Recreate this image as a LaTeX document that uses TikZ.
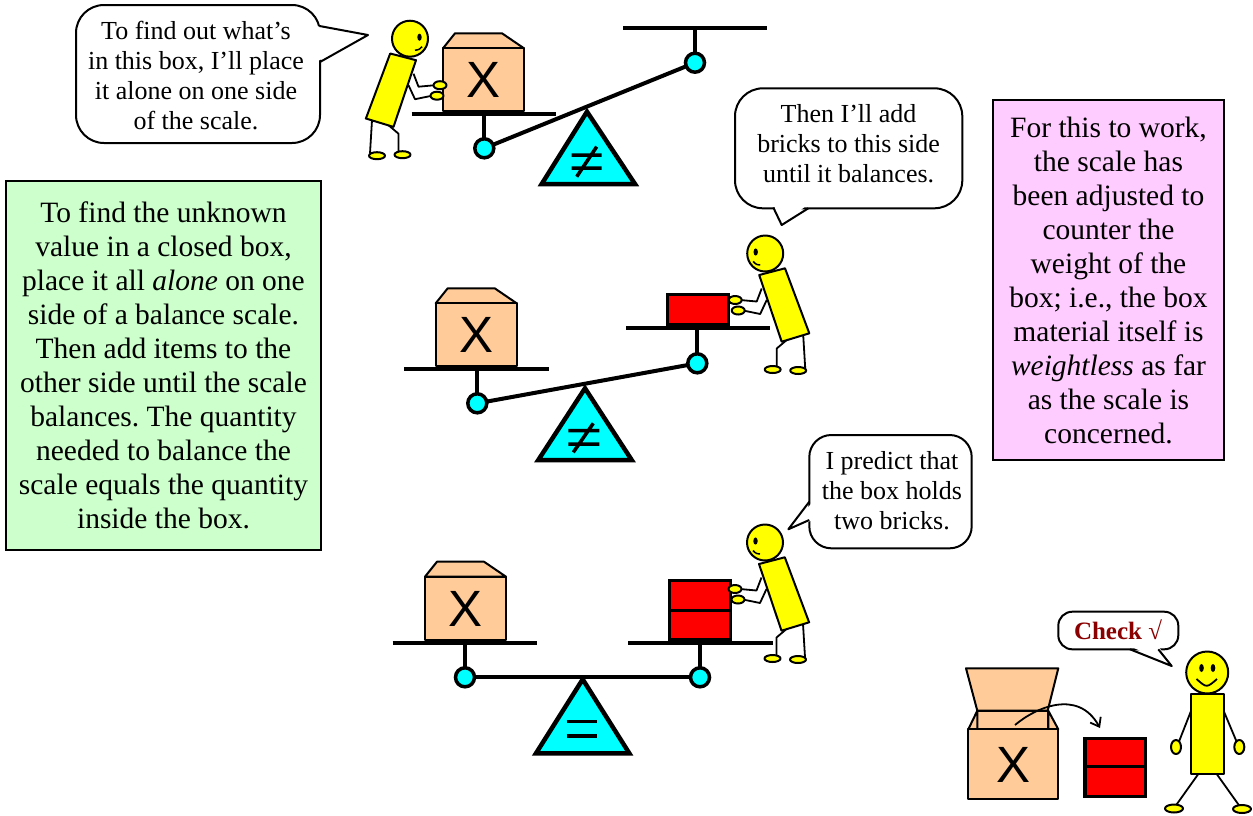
\documentclass[tikz,border=0pt]{standalone}
\usepackage{fontspec}
\setmainfont{Liberation Serif}
\newfontfamily\boxfont{Liberation Sans}
\usetikzlibrary{arrows.meta}
\frenchspacing

\definecolor{skinyel}{HTML}{FFFF00}
\definecolor{crate}{HTML}{FFCC99}
\definecolor{brick}{HTML}{FF0000}
\definecolor{pivotc}{HTML}{00FFFF}
\definecolor{notegreen}{HTML}{CCFFCC}
\definecolor{notepink}{HTML}{FFCCFF}
\definecolor{checkred}{HTML}{8B0000}

\tikzset{
  line/.style={draw=black, line width=2pt, line join=round},
  skin/.style={line, fill=skinyel},
  limb/.style={draw=black, line width=1.8pt, line join=round},
  plat/.style={draw=black, line width=4pt},
  pivot/.style={draw=black, line width=3.5pt, fill=pivotc},
  fulc/.style={draw=black, line width=4.5pt, fill=pivotc, line join=miter},
  sym/.style={draw=black, line width=3.5pt},
  cratebox/.style={line, fill=crate},
  brickbox/.style={draw=black, line width=3pt, fill=brick},
  bubble/.style={line, fill=white, rounded corners=#1},
  bubbletext/.style={font=\fontsize{26}{30}\selectfont, align=center, inner sep=0pt},
  notebox/.style={draw=black, line width=1.6pt, align=center, inner sep=0pt,
                  font=\fontsize{29.5}{34}\selectfont},
  xmark/.style={font=\boxfont\fontsize{51}{51}\selectfont, inner sep=0pt},
  % closed crate with its lid, placed by the top-left corner of its front face
  crate/.pic={
    \draw[cratebox] (0,0) -- (12,-15) -- (59,-15) -- (81,0) -- cycle;
    \draw[cratebox] (0,0) rectangle (81,63);
    \node[xmark] (-x) at (40.5,32) {X};
  },
  % stick figure leaning to the left and pushing, placed by the centre of its head
  pusher/.pic={
    \draw[limb] (21.5,86.5) -- (11.5,95) -- (11.5,113);
    \draw[limb] (38,81.5) -- (40,114.5);
    \draw[skin] (7.5,116) ellipse (8 and 3.5);
    \draw[skin] (33,117) ellipse (8 and 3.5);
    \draw[limb] (-3.5,35) -- (-8.5,48) -- (-25,46.5);
    \draw[limb] (1.5,46.5) -- (-5,60.5) -- (-22,57);
    \draw[skin] (-30,46.5) ellipse (6.5 and 4);
    \draw[skin] (-27,57) ellipse (6.5 and 4);
    \draw[skin] (-6,21.5) -- (19.8,14.8) -- (44.1,79.8) -- (16.5,88.2) -- cycle;
    \draw[skin] (0,0) circle (18);
    \fill (-9.5,-1.5) ellipse (2.2 and 3.6);
    \draw[line width=1.5pt] (-12,8) .. controls (-9,11) .. (-5,11.5);
  }
}

\begin{document}
\begin{tikzpicture}[x=1pt, y=-1pt]
\useasboundingbox (0,0) rectangle (1253,815);

% ---------- explanatory notes ----------
\node[notebox, fill=notegreen, minimum width=315pt, minimum height=369pt] (rule) at (163.5,365.5)
  {To find the unknown\\value in a closed box,\\place it all \textit{alone} on one\\side of a balance scale.\\Then add items to the\\other side until the scale\\balances. The quantity\\needed to balance the\\scale equals the quantity\\inside the box.};

\node[notebox, fill=notepink, minimum width=231pt, minimum height=360pt] (remark) at (1108.5,280)
  {For this to work,\\the scale has\\been adjusted to\\counter the\\weight of the\\box; i.e., the box\\material itself is\\\textit{weightless} as far\\as the scale is\\concerned.};

% ---------- first scale: box alone, tipped ----------
\draw[plat] (411.7,114.3) -- (556,114.3);
\draw[plat] (484.3,114.3) -- (484.3,148.3);
\draw[plat] (484.3,148.3) -- (695,62.7);
\draw[plat] (695,62.7) -- (695,28.3);
\draw[plat] (623,28.3) -- (767,28.3);
\draw[pivot] (484.3,148.3) circle (9.5);
\draw[pivot] (695,62.7) circle (9.5);
\draw[fulc] (587,111.7) -- (635,184) -- (541.7,184) -- cycle;
\draw[sym] (571.7,155) -- (601.7,155) (571.7,168) -- (601.7,168) (576.7,176.7) -- (596.7,146.7);
\pic (c1) at (443,48.3) {crate};
\pic[xscale=-1] (p1) at (410,38.7) {pusher};

% speech: first step
\draw[bubble=28] (76,5) rectangle (320,143);
\fill[white] (316,26) -- (368,35) -- (316,62) -- cycle;
\draw[line] (319.5,26) -- (368,35) -- (320,62);
\node[bubbletext] (say1) at (196,76)
  {To find out what’s\\in this box, I’ll place\\it alone on one side\\of the scale.};

% ---------- second scale: one brick, still tipped ----------
\draw[plat] (404.3,369.3) -- (549.3,369.3);
\draw[plat] (477.3,369.3) -- (477.3,403.3);
\draw[plat] (477.3,403.3) -- (697.3,363.3);
\draw[plat] (697.3,363.3) -- (697.3,328.3);
\draw[plat] (626,328.3) -- (770,328.3);
\draw[pivot] (477.3,403.3) circle (9.5);
\draw[pivot] (697.3,363.3) circle (9.5);
\draw[fulc] (585,388.3) -- (631.7,460) -- (538.3,460) -- cycle;
\draw[sym] (568.3,430.7) -- (599.3,430.7) (568.3,444) -- (599.3,444) (573.3,452.3) -- (593.3,423.3);
\pic (c2) at (435.7,303.3) {crate};
\draw[brickbox] (667.3,294.5) rectangle (728.3,324.5);
\pic (p2) at (765.2,253.5) {pusher};

% speech: second step
\draw[bubble=28] (735,88.3) rectangle (962.3,208.3);
\fill[white] (773.3,204) -- (781.7,225) -- (808.3,204) -- cycle;
\draw[line] (773.3,207.5) -- (781.7,225) -- (808.3,208.3);
\node[bubbletext] (say2) at (848.6,143.5)
  {Then I’ll add\\bricks to this side\\until it balances.};

% ---------- third scale: two bricks, level ----------
\draw[plat] (392.7,642.7) -- (537.3,642.7);
\draw[plat] (628.3,642.7) -- (772.7,642.7);
\draw[plat] (465,642.7) -- (465,677.3);
\draw[plat] (700,642.7) -- (700,677.3);
\draw[plat] (465,677.3) -- (700,677.3);
\draw[pivot] (465,677.3) circle (9.5);
\draw[pivot] (700,677.3) circle (9.5);
\draw[fulc] (582.7,679.3) -- (629.3,753.3) -- (536,753.3) -- cycle;
\draw[sym] (566.7,721.7) -- (596.7,721.7) (566.7,736) -- (596.7,736);
\pic (c3) at (425,576.7) {crate};
\draw[brickbox] (669.3,580.5) rectangle (730.7,610);
\draw[brickbox] (669.3,610) rectangle (730.7,639.5);
\pic (p3) at (765,542.5) {pusher};

% speech: prediction
\draw[bubble=22] (809.3,435) rectangle (971.7,548.3);
\fill[white] (813,501.7) -- (788.3,529.3) -- (813,520) -- cycle;
\draw[line] (809.3,501.7) -- (788.3,529.3) -- (809.3,520);
\node[bubbletext] (say3) at (892,491)
  {I predict that\\the box holds\\two bricks.};

% ---------- opened box and the check ----------
\draw[cratebox] (966,668.3) -- (1058.3,668.3) -- (1047.7,710.7) -- (977.3,710.7) -- cycle;
\draw[cratebox] (977.3,710.7) rectangle (1048.3,729.3);
\draw[cratebox] (968.3,729.3) -- (977.3,710.7) -- (977.3,729.3) -- cycle;
\draw[cratebox] (1058.3,729.3) -- (1048.3,710.7) -- (1048.3,729.3) -- cycle;
\draw[cratebox] (968.3,729.3) rectangle (1058.3,799);
\node[xmark] (x4) at (1013.3,765) {X};
\coordinate (inside) at (1015,725);
\coordinate (out) at (1100,728);
\draw[line width=1.8pt, -{Straight Barb[length=8pt, width=12pt]}]
  (inside) .. controls (1035,708) and (1078,688) .. (out);
\draw[brickbox, line width=3.5pt] (1085,738.3) rectangle (1145.7,766.7);
\draw[brickbox, line width=3.5pt] (1085,766.7) rectangle (1145.7,796.7);

% standing figure
\draw[limb] (1198.3,774) -- (1175,806.7);
\draw[limb] (1216.7,774) -- (1240,806.7);
\draw[skin] (1174,808.5) ellipse (9 and 4);
\draw[skin] (1242,809) ellipse (9 and 4);
\draw[limb] (1190.7,711.7) -- (1178.3,743.3);
\draw[limb] (1224,711.7) -- (1237.3,743.3);
\draw[skin] (1176,747) ellipse (5 and 7);
\draw[skin] (1239.3,747) ellipse (5 and 7);
\draw[skin] (1190.7,694.3) rectangle (1224,774);
\draw[skin] (1207.2,672.5) circle (21);
\fill (1201.5,668) ellipse (2.3 and 4);
\fill (1213,668) ellipse (2.3 and 4);
\draw[line width=1.8pt] (1196.5,679) .. controls (1206.7,688) .. (1217,679);

% speech: check
\draw[bubble=14] (1058.3,611.7) rectangle (1178.3,649.3);
\fill[white] (1130,646) -- (1171.7,666) -- (1158.3,646) -- cycle;
\draw[line] (1130,649.3) -- (1171.7,666) -- (1158.3,649.3);
\node[font=\bfseries\fontsize{25}{29}\selectfont, text=checkred, inner sep=0pt] (say4) at (1118,630) {Check √};

\end{tikzpicture}
\end{document}
